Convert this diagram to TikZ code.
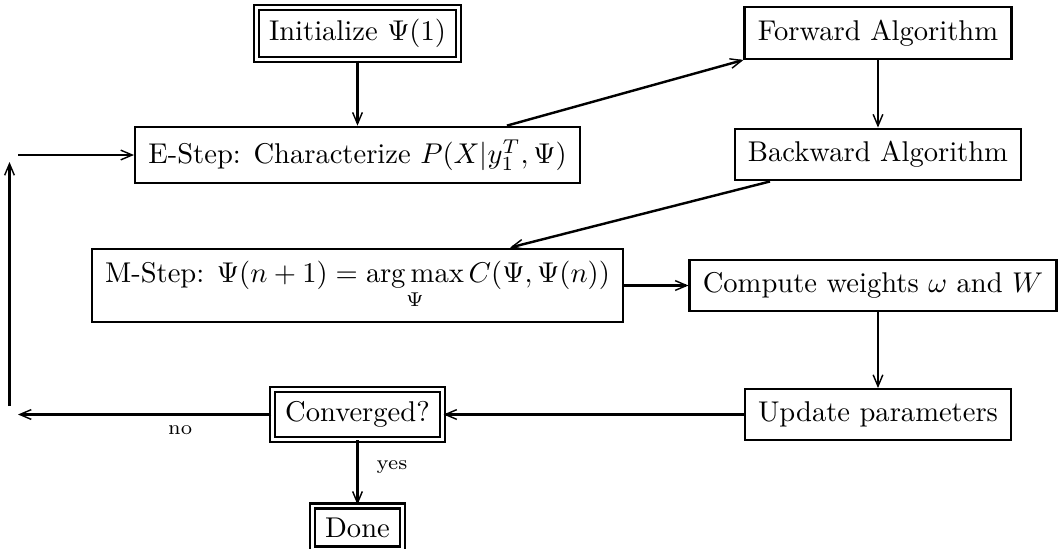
\documentclass[tikz,border=0pt]{standalone}
\usetikzlibrary{arrows.meta}
\tikzset{
  box/.style={draw, line width=0.85pt, inner xsep=4.6pt, inner ysep=4.4pt},
  dbox/.style={draw, double, double distance=0.9pt, line width=0.85pt, inner xsep=4.4pt, inner ysep=4.1pt},
  arr/.style={line width=0.85pt, -{Straight Barb[length=4pt,width=3.4pt,line width=0.5pt]}},
  lbl/.style={font=\scriptsize, inner sep=0pt},
}
\begin{document}
\begin{tikzpicture}[x=0.35pt,y=-0.35pt]
\useasboundingbox (0,0) rectangle (1063,548);
\clip (0,0) rectangle (1063,548);
\node[dbox] (init) at (357.5,33.5) {Initialize $\Psi(1)$};
\node[box] (fwd) at (878,33) {Forward Algorithm};
\node[box] (estep) at (357.5,155) {E-Step: Characterize $P(X|y_1^T,\Psi)$};
\node[box] (bwd) at (878,154.5) {Backward Algorithm};
\node[box] (mstep) at (357.5,285.5) {M-Step: $\Psi(n+1)=\displaystyle\mathop{\arg\max}_{\Psi} C(\Psi,\Psi(n))$};
\node[box] (comp) at (873,285.5) {Compute weights $\omega$ and $W$};
\node[box] (upd) at (878,414.5) {Update parameters};
\node[dbox] (conv) at (357.5,414.5) {Converged?};
\node[dbox] (done) at (357.5,527.5) {Done};
\coordinate (noend) at (18,414.5);
\coordinate (lb) at (9.5,406);
\coordinate (lt) at (9.5,162);
\coordinate (ein) at (18,155);
\draw[arr] (init) -- (estep);
\draw[arr] ([xshift=52.3pt]estep.north) -- (fwd.south west);
\draw[arr] (fwd) -- (bwd);
\draw[arr] ([xshift=-37.8pt]bwd.south) -- ([xshift=53.4pt]mstep.north);
\draw[arr] (mstep) -- (comp);
\draw[arr] (comp.south -| upd.north) -- (upd.north);
\draw[arr] (upd) -- (conv);
\draw[arr] (conv) -- (noend) node[lbl, pos=0.36, below=3.3pt] {no};
\draw[arr] (lb) -- (lt);
\draw[arr] (ein) -- (estep.west);
\draw[arr] (conv) -- (done) node[lbl, pos=0.41, right=6.3pt] {yes};
\end{tikzpicture}
\end{document}
